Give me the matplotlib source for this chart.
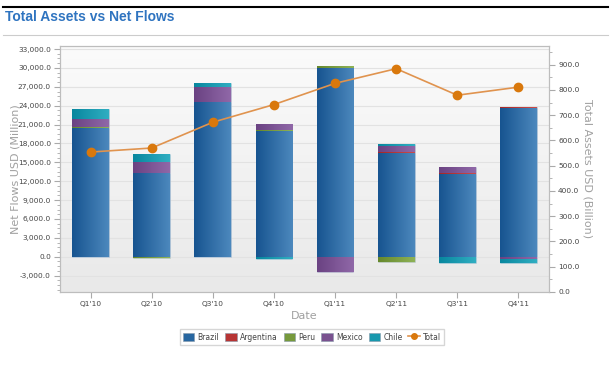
import matplotlib
matplotlib.use("Agg")
import matplotlib.pyplot as plt
import numpy as np
from matplotlib.colors import LinearSegmentedColormap
from matplotlib.ticker import MultipleLocator, AutoMinorLocator, FuncFormatter
from matplotlib.lines import Line2D
from matplotlib.patches import Patch

# quarters on the x axis
quarters = ["Q1'10", "Q2'10", "Q3'10", "Q4'10", "Q1'11", "Q2'11", "Q3'11", "Q4'11"]

# net flows per country, USD million
brazil = [20400, 13350, 24630, 20000, 30030, 16530, 13140, 23580]
argentina = [-60, 0, 0, 0, 0, 120, 170, 130]
peru = [150, -150, -60, 130, 270, -900, 0, 0]
mexico = [1300, 1750, 2290, 910, -2380, 940, 880, -300]
chile = [1570, 1270, 630, -370, 0, 370, -950, -750]

# total assets, USD billion
total = [554, 570, 672, 742, 826, 884, 779, 811]

series = [
    ("Brazil", brazil, "#2766a0", "#175490", "#4c88bd"),
    ("Argentina", argentina, "#b73434", "#a52626", "#cc4c4c"),
    ("Peru", peru, "#76993c", "#66882c", "#8eb256"),
    ("Mexico", mexico, "#79518f", "#6a4282", "#9068a8"),
    ("Chile", chile, "#1898ad", "#08879e", "#30aec2"),
]

fig = plt.figure(figsize=(6.13, 3.75), dpi=100)
ax = fig.add_axes([60 / 613, 1 - 292 / 375, 489 / 613, 246.3 / 375])
ax2 = ax.twinx()

x = np.arange(len(quarters))
ymin, ymax = -5610, 33530

# light gradient background
bg = np.linspace(0, 1, 256).reshape(-1, 1)
bg_cmap = LinearSegmentedColormap.from_list("bg", ["#fbfbfb", "#e9e9e9"])
ax.imshow(bg, extent=[-0.5, 7.5, ymin, ymax], aspect="auto", cmap=bg_cmap,
          origin="upper", zorder=0)

for v in np.arange(-3000, 33001, 3000):
    ax.axhline(v, color="#e2e2e2", lw=0.8, zorder=1)

pos_bottom = np.zeros(len(quarters))
neg_bottom = np.zeros(len(quarters))
grad = np.linspace(0, 1, 64).reshape(1, -1)
for name, vals, col, dark, light in series:
    vals = np.array(vals, dtype=float)
    bottoms = np.where(vals >= 0, pos_bottom, neg_bottom)
    bars = ax.bar(x, vals, width=0.6, bottom=bottoms, color=col,
                  edgecolor="#c9d6e3", linewidth=0.4, zorder=2)
    cmap = LinearSegmentedColormap.from_list(name, [dark, light])
    for b in bars:
        if b.get_height() == 0:
            continue
        x0 = b.get_x()
        y0 = b.get_y()
        im = ax.imshow(grad, extent=[x0, x0 + b.get_width(), y0, y0 + b.get_height()],
                       aspect="auto", cmap=cmap, zorder=2.5)
        im.set_clip_path(b)
    pos_bottom += np.where(vals > 0, vals, 0)
    neg_bottom += np.where(vals < 0, vals, 0)

ax.set_xlim(-0.5, 7.5)
ax.set_ylim(ymin, ymax)
ax.set_xticks(x)
ax.set_xticklabels(quarters)
ax.yaxis.set_major_locator(MultipleLocator(3000))
ax.yaxis.set_minor_locator(AutoMinorLocator(4))
ax.yaxis.set_major_formatter(FuncFormatter(lambda v, p: f"{v:,.1f}"))

ax2.plot(x, total, color="#e0934e", lw=1.2, marker="o", markersize=6,
         markerfacecolor="#d9780c", markeredgecolor="#d9780c", zorder=5)
ax2.set_ylim(0, 975)
ax2.yaxis.set_major_locator(MultipleLocator(100))
ax2.yaxis.set_minor_locator(AutoMinorLocator(2))
ax2.yaxis.set_major_formatter(FuncFormatter(lambda v, p: f"{v:.1f}"))

for a in (ax, ax2):
    for s in a.spines.values():
        s.set_color("#bdbdbd")
        s.set_linewidth(0.8)
    a.tick_params(which="both", colors="#aaaaaa", labelcolor="#444444", labelsize=5.3)
    a.tick_params(which="major", length=4, pad=2.5)
    a.tick_params(which="minor", length=2)

ax.set_ylabel("Net Flows USD (Million)", color="#a0a0a0", fontsize=8)
ax.yaxis.set_label_coords(-39 / 489, 0.5)
ax2.set_ylabel("Total Assets USD (Billion)", color="#a0a0a0", fontsize=8, rotation=270)
ax2.yaxis.set_label_coords(532 / 489, 0.5)
ax.set_xlabel("Date", color="#a0a0a0", fontsize=8, labelpad=3)

# title block
fig.add_artist(Line2D([3 / 613, 608 / 613], [1 - 7 / 375] * 2, color="black", lw=1.5))
fig.add_artist(Line2D([3 / 613, 608 / 613], [1 - 35 / 375] * 2, color="#cccccc", lw=0.8))
fig.text(5 / 613, 1 - 17 / 375, "Total Assets vs Net Flows", color="#2f74c0",
         fontsize=10, fontweight="bold", va="center", ha="left",
         family=["Liberation Sans Narrow", "Liberation Sans", "DejaVu Sans"])

handles = [Patch(facecolor=c, edgecolor="#8899aa", lw=0.4) for _, _, c, _, _ in series]
handles.append(Line2D([], [], color="#e0934e", lw=1.2, marker="o", markersize=4,
                      markerfacecolor="#d9780c", markeredgecolor="#d9780c"))
labels = [s[0] for s in series] + ["Total"]
leg = fig.legend(handles, labels, loc="center", bbox_to_anchor=(312 / 613, 1 - 337 / 375),
                 ncol=6, fontsize=5.5, frameon=True, fancybox=False, handlelength=1.5,
                 handleheight=1.2, handletextpad=0.4, columnspacing=0.8,
                 borderpad=0.4, edgecolor="#cccccc")
for t in leg.get_texts():
    t.set_color("#444444")

fig.savefig("out.png", dpi=100)
